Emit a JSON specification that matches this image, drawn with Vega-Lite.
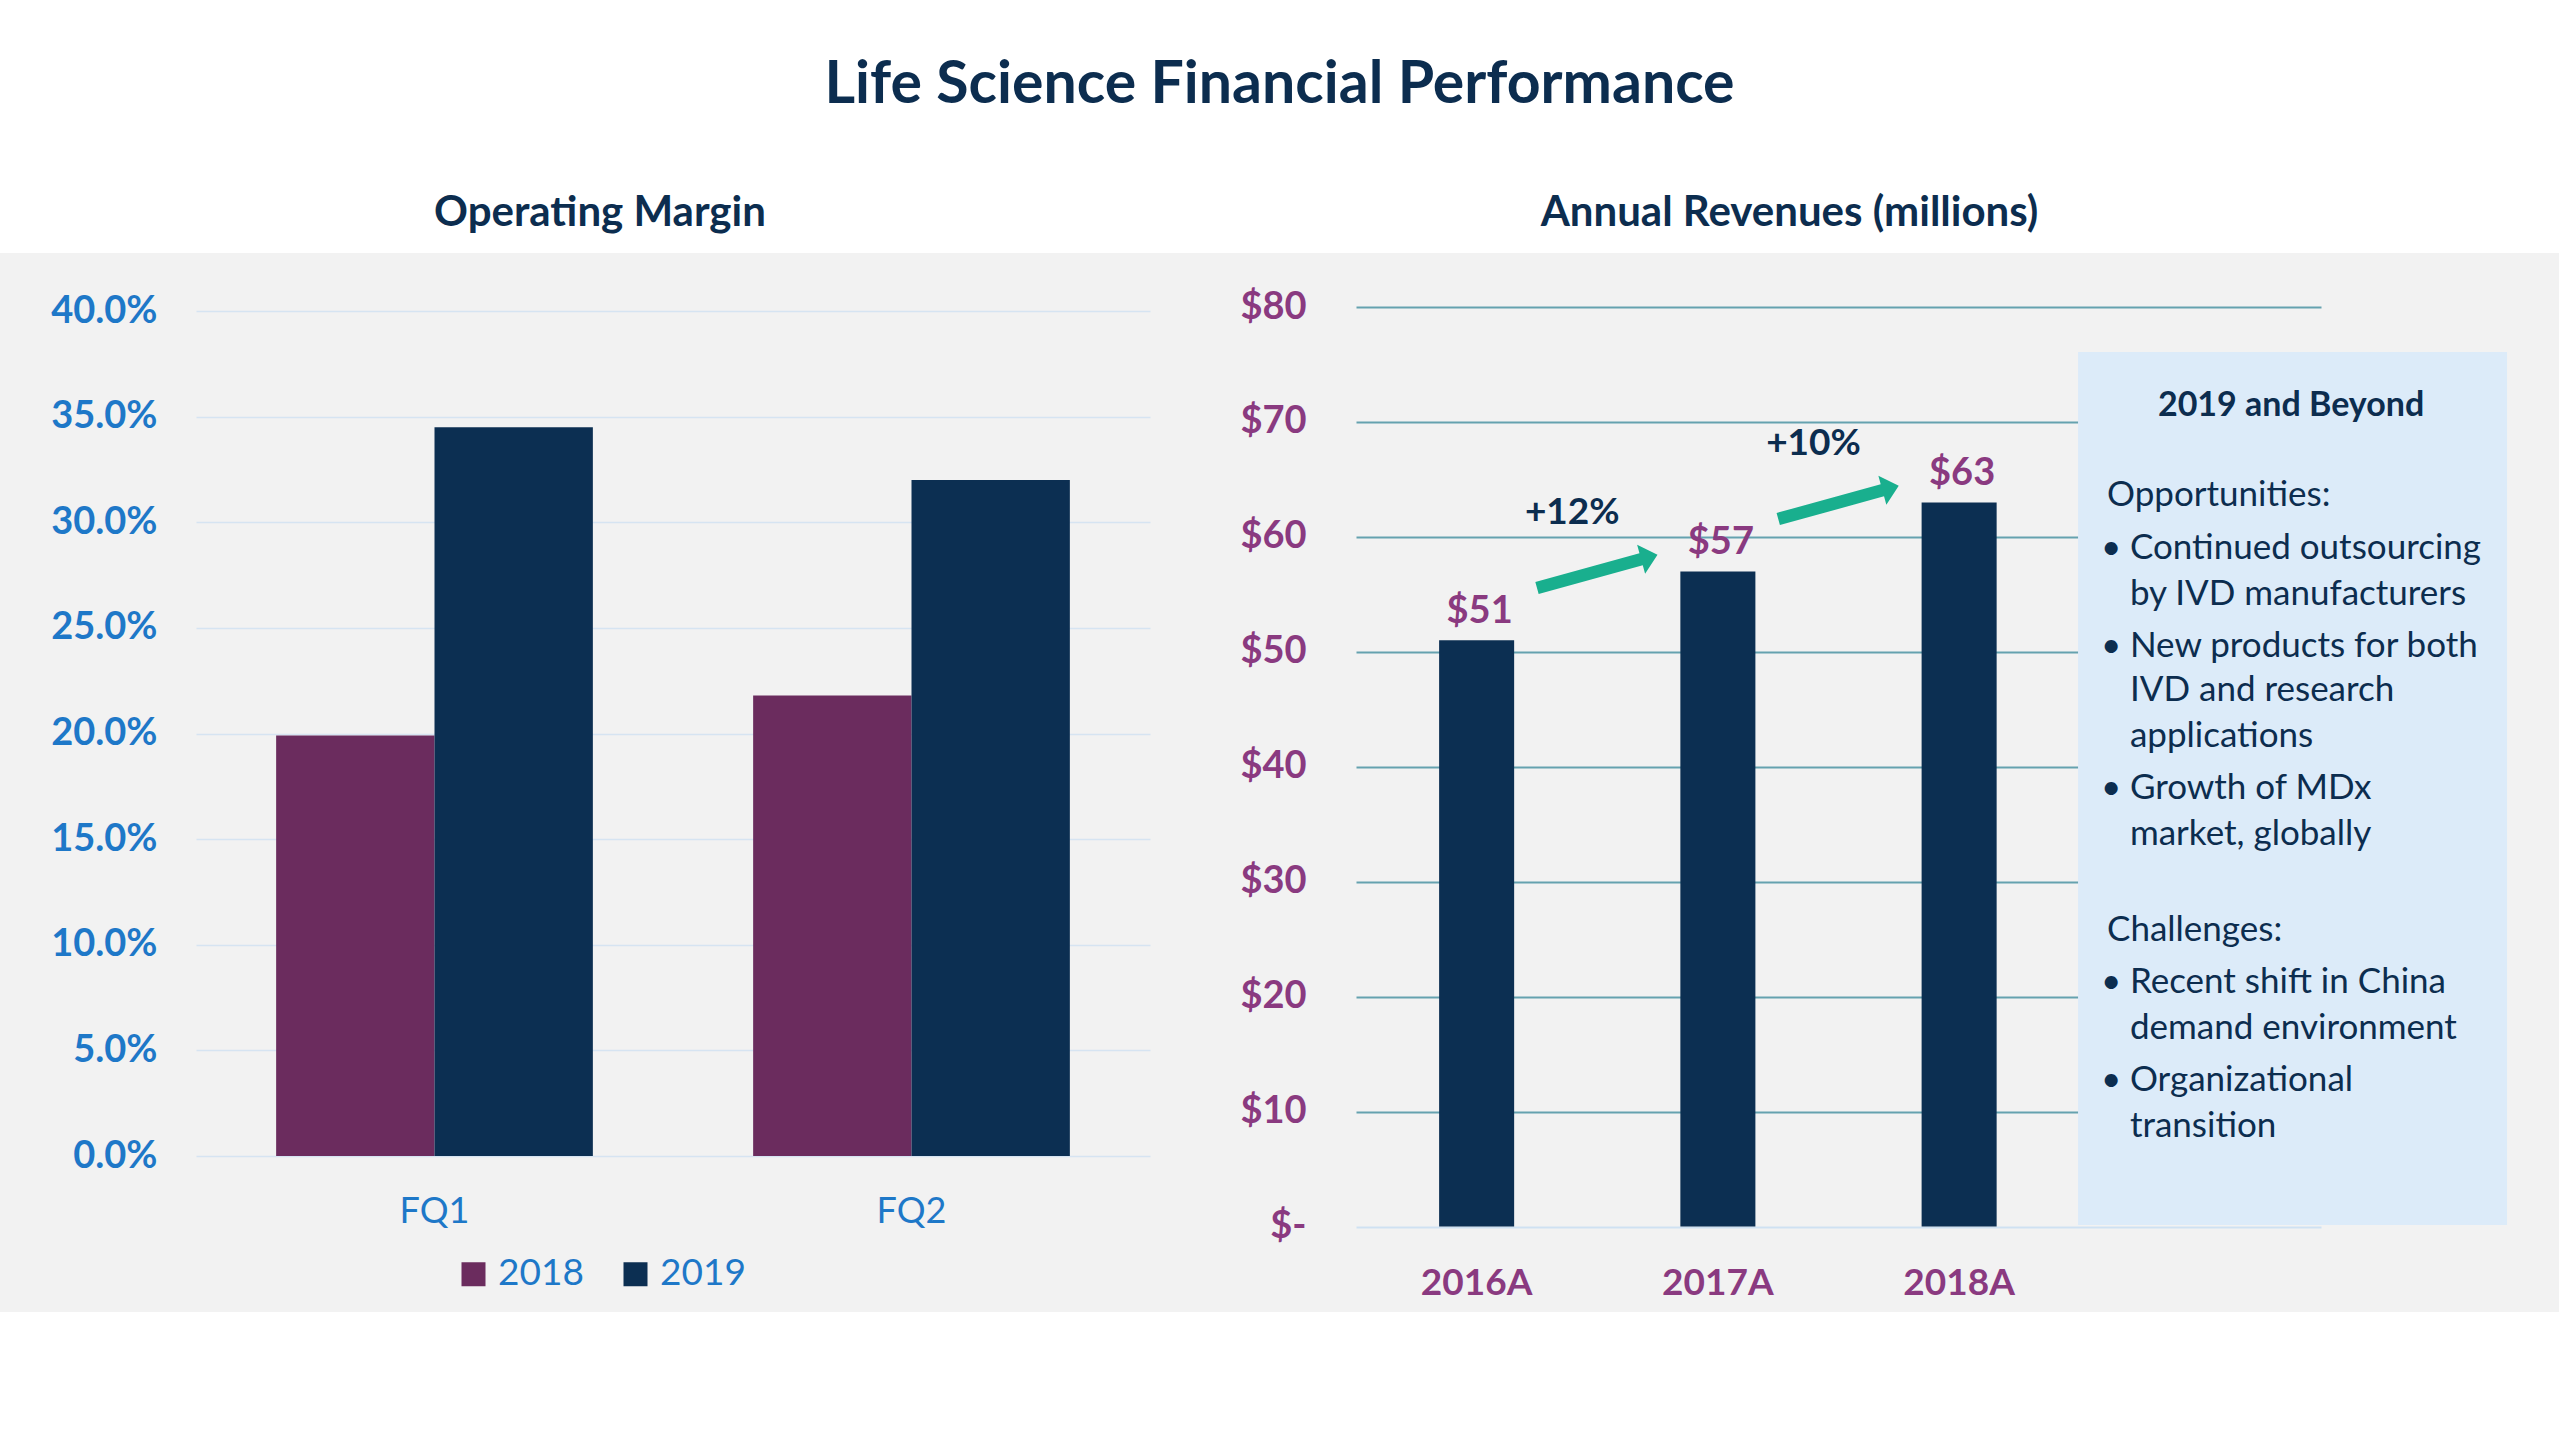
{
  "$schema": "https://vega.github.io/schema/vega-lite/v6.json",
  "padding": {"left": 0, "right": 0, "top": 56, "bottom": 129},
  "background": "white",
  "title": {
    "text": "Life Science Financial Performance",
    "font": "Lato", "fontSize": 59, "fontWeight": "bold", "color": "#0c2d4f",
    "anchor": "middle", "offset": 76.5
  },
  "config": {
    "view": {"fill": "#f2f2f2", "stroke": null},
    "font": "Lato",
    "axis": {"domain": false, "ticks": false, "labelFont": "Lato", "title": null},
    "title": {"font": "Lato", "fontWeight": "bold", "color": "#0c2d4f"}
  },
  "spacing": 0,
  "align": "each",
  "datasets": {
    "margin": [
      {"quarter": "FQ1", "year": "2018", "margin": 0.199},
      {"quarter": "FQ1", "year": "2019", "margin": 0.345},
      {"quarter": "FQ2", "year": "2018", "margin": 0.218},
      {"quarter": "FQ2", "year": "2019", "margin": 0.320}
    ],
    "revenue": [
      {"year": "2016A", "revenue": 51},
      {"year": "2017A", "revenue": 57},
      {"year": "2018A", "revenue": 63}
    ],
    "growth": [
      {"from": "2016A", "to": "2017A", "boundary": 1, "level": 57, "growth": "+12%"},
      {"from": "2017A", "to": "2018A", "boundary": 2, "level": 63, "growth": "+10%"}
    ],
    "outlook": [
      {"line": 0, "kind": "title", "text": "2019 and Beyond"},
      {"line": 1.97, "kind": "head", "text": "Opportunities:"},
      {"line": 3.12, "kind": "bullet", "text": "Continued outsourcing"},
      {"line": 4.13, "kind": "cont", "text": "by IVD manufacturers"},
      {"line": 5.27, "kind": "bullet", "text": "New products for both"},
      {"line": 6.24, "kind": "cont", "text": "IVD and research"},
      {"line": 7.25, "kind": "cont", "text": "applications"},
      {"line": 8.39, "kind": "bullet", "text": "Growth of MDx"},
      {"line": 9.40, "kind": "cont", "text": "market, globally"},
      {"line": 11.51, "kind": "head", "text": "Challenges:"},
      {"line": 12.66, "kind": "bullet", "text": "Recent shift in China"},
      {"line": 13.67, "kind": "cont", "text": "demand environment"},
      {"line": 14.81, "kind": "bullet", "text": "Organizational"},
      {"line": 15.82, "kind": "cont", "text": "transition"}
    ]
  },
  "hconcat": [
    {
      "width": 1200, "height": 1059,
      "title": {"text": "Operating Margin", "fontSize": 42, "offset": 18.4},
      "data": {"name": "margin"},
      "mark": {"type": "bar"},
      "encoding": {
        "x": {
          "field": "quarter", "type": "nominal", "sort": null,
          "scale": {"range": [196, 1150], "paddingInner": 0.336, "paddingOuter": 0.168},
          "axis": {"orient": "bottom", "offset": -156, "labelPadding": 38, "labelFontSize": 36, "labelColor": "#1e78c8", "labelAngle": 0, "grid": false}
        },
        "xOffset": {"field": "year", "type": "nominal", "scale": {"paddingInner": 0, "paddingOuter": 0}},
        "y": {
          "field": "margin", "type": "quantitative",
          "scale": {"domain": [0, 0.4], "range": [903, 58], "nice": false},
          "axis": {
            "values": [0, 0.05, 0.1, 0.15, 0.2, 0.25, 0.3, 0.35, 0.4],
            "format": ".1%", "offset": -196, "labelPadding": 39,
            "labelFontSize": 38, "labelFontWeight": "bold", "labelColor": "#1e78c8",
            "grid": true, "gridColor": "#d6e4f2", "gridWidth": 1.5
          }
        },
        "color": {
          "field": "year", "type": "nominal",
          "scale": {"domain": ["2018", "2019"], "range": ["#6b2c5e", "#0c2f52"]},
          "legend": {
            "orient": "none", "legendX": 455, "legendY": 1002.5, "direction": "horizontal",
            "title": null, "symbolType": "square", "symbolSize": 576, "symbolStrokeWidth": 0,
            "labelFontSize": 37, "labelColor": "#1e78c8", "labelFont": "Lato",
            "labelOffset": 6, "columnPadding": 33, "padding": 0
          }
        }
      }
    },
    {
      "width": 1359, "height": 1059,
      "title": {"text": "Annual Revenues (millions)", "fontSize": 42, "offset": 18.4, "dx": -90},
      "layer": [
        {
          "data": {"name": "revenue"},
          "encoding": {
            "x": {
              "field": "year", "type": "nominal",
              "scale": {"domain": ["2016A", "2017A", "2018A", "2019E"], "range": [156, 1121], "paddingInner": 0.689, "paddingOuter": 0.3445},
              "axis": {"orient": "bottom", "offset": -85.4, "labelPadding": 39, "labelFontSize": 37, "labelFontWeight": "bold", "labelColor": "#8a3a80", "labelAngle": 0, "labelExpr": "datum.value == '2019E' ? '' : datum.label"}
            },
            "y": {
              "field": "revenue", "type": "quantitative",
              "scale": {"domain": [0, 80], "range": [973.6, 54], "nice": false},
              "axis": {
                "values": [0, 10, 20, 30, 40, 50, 60, 70, 80],
                "offset": -156, "labelPadding": 50,
                "labelFontSize": 38, "labelFontWeight": "bold", "labelColor": "#8a3a80",
                "labelExpr": "datum.value == 0 ? '$-' : '$' + datum.value",
                "grid": true,
                "gridColor": {"condition": {"test": "datum.value == 0", "value": "#cfe1f2"}, "value": "#65a2af"},
                "gridWidth": 2
              }
            }
          },
          "layer": [
            {"mark": {"type": "bar", "color": "#0c2f52"}},
            {
              "mark": {"type": "text", "baseline": "alphabetic", "dy": -17, "dx": 3, "fontSize": 38, "fontWeight": "bold", "color": "#8a3a80", "font": "Lato"},
              "encoding": {"text": {"field": "revenue", "type": "quantitative", "format": "$d"}}
            }
          ]
        },
        {
          "data": {"name": "growth"},
          "encoding": {
            "x": {"field": "boundary", "type": "quantitative", "scale": {"domain": [0, 4], "range": [156, 1121], "nice": false, "zero": false}, "axis": null},
            "y": {"field": "level", "type": "quantitative", "scale": {"domain": [0, 80], "range": [973.6, 54], "nice": false}, "axis": null}
          },
          "layer": [
            {
              "mark": {"type": "point", "shape": "M -1 -0.1 L 0.728 -0.1 L 0.728 -0.24 L 1 0 L 0.728 0.24 L 0.728 0.1 L -1 0.1 Z", "size": 15625, "angle": -15.4, "filled": true, "color": "#19af8e", "opacity": 1, "strokeWidth": 0}
            },
            {
              "mark": {"type": "text", "dx": -25, "dy": -58, "fontSize": 37, "fontWeight": "bold", "color": "#0c2d4f", "font": "Lato"},
              "encoding": {"text": {"field": "growth"}}
            }
          ]
        },
        {
          "data": {"name": "outlook"},
          "encoding": {
            "x": {"datum": 3.208, "type": "quantitative", "scale": {"domain": [0, 4], "range": [156, 1121], "nice": false, "zero": false}, "axis": null},
            "y": {"field": "line", "type": "quantitative", "scale": {"domain": [0, 16], "range": [152.8, 880.8], "nice": false, "zero": false}, "axis": null}
          },
          "layer": [
            {
              "transform": [{"filter": "datum.kind == 'title'"}],
              "mark": {"type": "point", "shape": "M -0.4914 -1 L 0.4914 -1 L 0.4914 1 L -0.4914 1 Z", "size": 762129, "filled": true, "color": "#dcebf9", "opacity": 1, "strokeWidth": 0},
              "encoding": {"x": {"datum": 3.882, "type": "quantitative"}, "y": {"datum": 8.411, "type": "quantitative"}}
            },
            {
              "transform": [{"filter": "datum.kind == 'title'"}],
              "mark": {"type": "text", "align": "center", "baseline": "middle", "fontSize": 34, "fontWeight": "bold", "color": "#0c2d4f", "font": "Lato"},
              "encoding": {"x": {"datum": 3.876, "type": "quantitative"}, "text": {"field": "text"}}
            },
            {
              "transform": [{"filter": "datum.kind == 'head'"}],
              "mark": {"type": "text", "align": "left", "baseline": "middle", "fontSize": 35, "color": "#0c2d4f", "font": "Lato"},
              "encoding": {"x": {"datum": 3.113, "type": "quantitative"}, "text": {"field": "text"}}
            },
            {
              "transform": [{"filter": "datum.kind == 'bullet'"}],
              "mark": {"type": "text", "align": "left", "baseline": "middle", "fontSize": 35, "color": "#0c2d4f", "font": "Lato", "text": "•"},
              "encoding": {"x": {"datum": 3.088, "type": "quantitative"}}
            },
            {
              "transform": [{"filter": "datum.kind == 'bullet' || datum.kind == 'cont'"}],
              "mark": {"type": "text", "align": "left", "baseline": "middle", "fontSize": 35, "color": "#0c2d4f", "font": "Lato"},
              "encoding": {"text": {"field": "text"}}
            }
          ]
        }
      ],
      "resolve": {"scale": {"x": "independent", "y": "independent"}}
    }
  ]
}
